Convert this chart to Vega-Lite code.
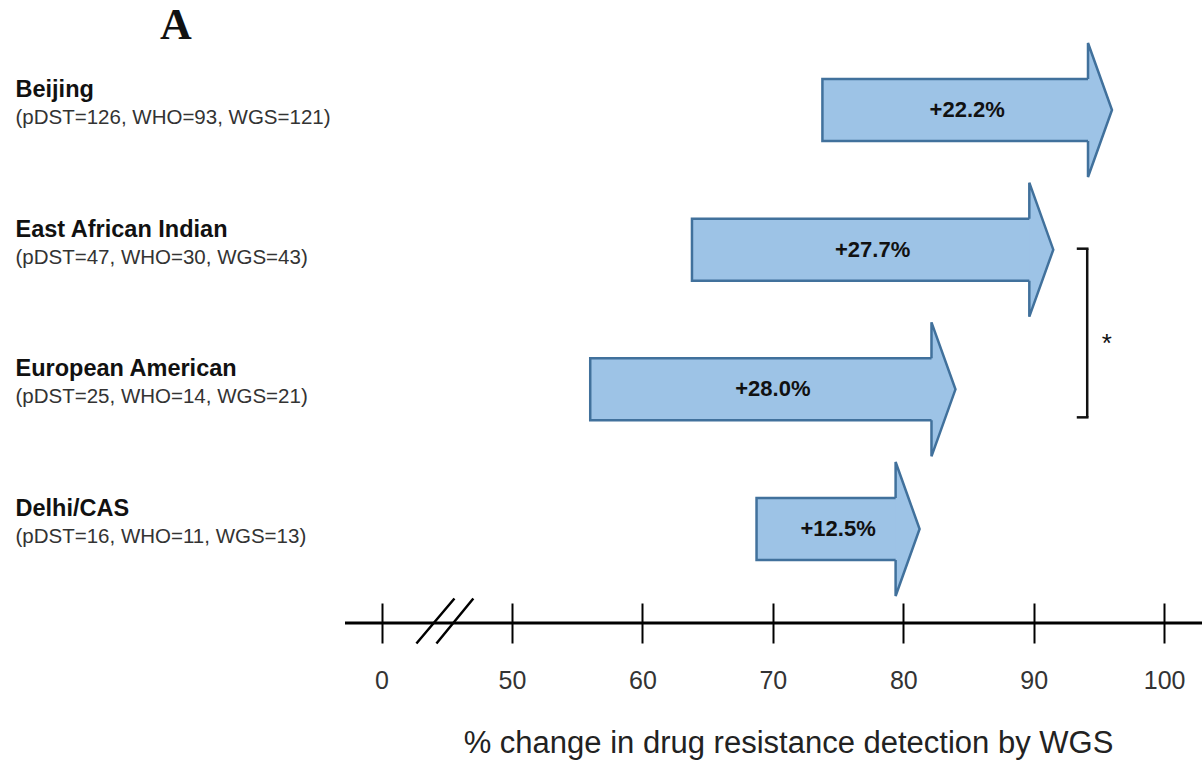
{
  "$schema": "https://vega.github.io/schema/vega-lite/v6.json",
  "width": 857,
  "height": 573,
  "autosize": {"type": "none"},
  "padding": {"left": 345, "top": 50, "right": 0, "bottom": 138},
  "background": "white",
  "config": {"view": {"stroke": null}, "font": "Liberation Sans"},
  "title": {
    "text": "A",
    "anchor": "start",
    "frame": "group",
    "font": "Liberation Serif",
    "fontSize": 44,
    "fontWeight": "bold",
    "color": "#111111",
    "baseline": "alphabetic",
    "dx": -185,
    "offset": -45
  },
  "data": {
    "values": [
      {"row": "Beijing|(pDST=126, WHO=93, WGS=121)", "who": 73.8, "wgs": 96.0, "change": 0.222},
      {"row": "East African Indian|(pDST=47, WHO=30, WGS=43)", "who": 63.8, "wgs": 91.5, "change": 0.277},
      {"row": "European American|(pDST=25, WHO=14, WGS=21)", "who": 56.0, "wgs": 84.0, "change": 0.280},
      {"row": "Delhi/CAS|(pDST=16, WHO=11, WGS=13)", "who": 68.75, "wgs": 81.25, "change": 0.125}
    ]
  },
  "resolve": {"axis": {"y": "independent"}},
  "layer": [
    {
      "mark": {
        "type": "bar",
        "height": 62,
        "x2Offset": -22,
        "yOffset": 6,
        "fill": "#9DC3E6",
        "stroke": "#41719C",
        "strokeWidth": 2.5
      },
      "encoding": {
        "y": {
          "field": "row",
          "type": "nominal",
          "sort": null,
          "scale": {
            "domain": [
              "Beijing|(pDST=126, WHO=93, WGS=121)",
              "East African Indian|(pDST=47, WHO=30, WGS=43)",
              "European American|(pDST=25, WHO=14, WGS=21)",
              "Delhi/CAS|(pDST=16, WHO=11, WGS=13)"
            ],
            "paddingInner": 0.6,
            "paddingOuter": 0.3513,
            "align": 0.2658
          },
          "axis": {
            "orient": "left",
            "title": null,
            "domain": false,
            "ticks": false,
            "tickSize": 0,
            "labelExpr": "split(datum.value, '|')[0]",
            "labelAlign": "left",
            "labelBaseline": "middle",
            "labelPadding": 330,
            "labelOffset": -14,
            "labelFont": "Liberation Sans",
            "labelFontSize": 23.5,
            "labelFontWeight": "bold",
            "labelColor": "#111111",
            "labelLimit": 600
          }
        },
        "x": {
          "field": "who",
          "type": "quantitative",
          "scale": {"domain": [37.2, 102.9], "nice": false, "zero": false},
          "axis": {
            "orient": "bottom",
            "offset": -20,
            "values": [40, 50, 60, 70, 80, 90, 100],
            "labelExpr": "datum.value == 40 ? '0' : datum.label",
            "title": "% change in drug resistance detection by WGS",
            "grid": false,
            "domain": false,
            "ticks": true,
            "tickColor": "#000000",
            "tickWidth": 2,
            "tickSize": 40,
            "labels": true,
            "labelFlush": false,
            "labelOverlap": false,
            "labelFont": "Liberation Sans",
            "labelFontSize": 25,
            "labelColor": "#333333",
            "labelPadding": 25,
            "titleFont": "Liberation Sans",
            "titleFontSize": 31,
            "titleFontWeight": "normal",
            "titleColor": "#222222",
            "titlePadding": 35,
            "titleX": 443
          }
        },
        "x2": {"field": "wgs"}
      }
    },
    {
      "mark": {
        "type": "point",
        "shape": "M-0.358,-0.463L-0.358,-1L0,0L-0.358,1L-0.358,0.463",
        "size": 17956,
        "filled": true,
        "fill": "#9DC3E6",
        "stroke": "#41719C",
        "strokeWidth": 2.5,
        "strokeJoin": "miter",
        "opacity": 1,
        "yOffset": 6
      },
      "encoding": {
        "x": {"field": "wgs", "type": "quantitative"},
        "y": {
          "field": "row",
          "type": "nominal",
          "sort": null,
          "axis": {
            "orient": "left",
            "title": null,
            "domain": false,
            "ticks": false,
            "tickSize": 0,
            "labelExpr": "split(datum.value, '|')[1]",
            "labelAlign": "left",
            "labelBaseline": "middle",
            "labelPadding": 330,
            "labelOffset": 14,
            "labelFont": "Liberation Sans",
            "labelFontSize": 20.5,
            "labelFontWeight": "normal",
            "labelColor": "#333333",
            "labelLimit": 600
          }
        }
      }
    },
    {
      "transform": [
        {"fold": ["who", "wgs"], "as": ["end", "pct"]},
        {"aggregate": [{"op": "mean", "field": "pct", "as": "mid"}], "groupby": ["row", "change"]}
      ],
      "mark": {
        "type": "text",
        "font": "Liberation Sans",
        "fontSize": 22,
        "fontWeight": "bold",
        "color": "#111111",
        "baseline": "middle",
        "yOffset": 6
      },
      "encoding": {
        "x": {"field": "mid", "type": "quantitative"},
        "y": {"field": "row", "type": "nominal", "sort": null, "axis": null},
        "text": {"field": "change", "type": "quantitative", "format": "+.1%"}
      }
    },
    {
      "data": {"values": [{"from": "East African Indian|(pDST=47, WHO=30, WGS=43)", "to": "European American|(pDST=25, WHO=14, WGS=21)", "sig": "*"}]},
      "layer": [
        {
          "mark": {"type": "rule", "color": "#111111", "strokeWidth": 2.5, "yOffset": 5, "y2Offset": 34},
          "encoding": {
            "x": {"datum": 94.1, "type": "quantitative"},
            "y": {"field": "from", "type": "nominal", "axis": null},
            "y2": {"field": "to"}
          }
        },
        {
          "mark": {"type": "rule", "color": "#111111", "strokeWidth": 2.5, "yOffset": 5},
          "encoding": {
            "x": {"datum": 93.3, "type": "quantitative"},
            "x2": {"datum": 94.2},
            "y": {"field": "from", "type": "nominal", "axis": null}
          }
        },
        {
          "mark": {"type": "rule", "color": "#111111", "strokeWidth": 2.5, "yOffset": 34},
          "encoding": {
            "x": {"datum": 93.3, "type": "quantitative"},
            "x2": {"datum": 94.2},
            "y": {"field": "to", "type": "nominal", "axis": null}
          }
        },
        {
          "mark": {"type": "text", "font": "Liberation Sans", "fontSize": 26, "color": "#111111", "baseline": "middle", "yOffset": 100},
          "encoding": {
            "x": {"datum": 95.6, "type": "quantitative"},
            "y": {"field": "from", "type": "nominal", "axis": null},
            "text": {"field": "sig"}
          }
        }
      ]
    },
    {
      "data": {"values": [{"part": "axis line"}]},
      "mark": {"type": "rule", "color": "#000000", "strokeWidth": 3, "y": "height"},
      "encoding": {
        "x": {"datum": 37.2, "type": "quantitative"},
        "x2": {"datum": 102.9}
      }
    },
    {
      "data": {"values": [{"part": "axis break"}]},
      "mark": {
        "type": "point",
        "shape": "M-1.29,1L0.4,-1M-0.4,1L1.24,-1",
        "size": 2025,
        "filled": false,
        "fill": null,
        "stroke": "#000000",
        "strokeWidth": 2.5,
        "opacity": 1,
        "y": "height",
        "yOffset": -2
      },
      "encoding": {
        "x": {"datum": 44.9, "type": "quantitative"}
      }
    }
  ]
}
